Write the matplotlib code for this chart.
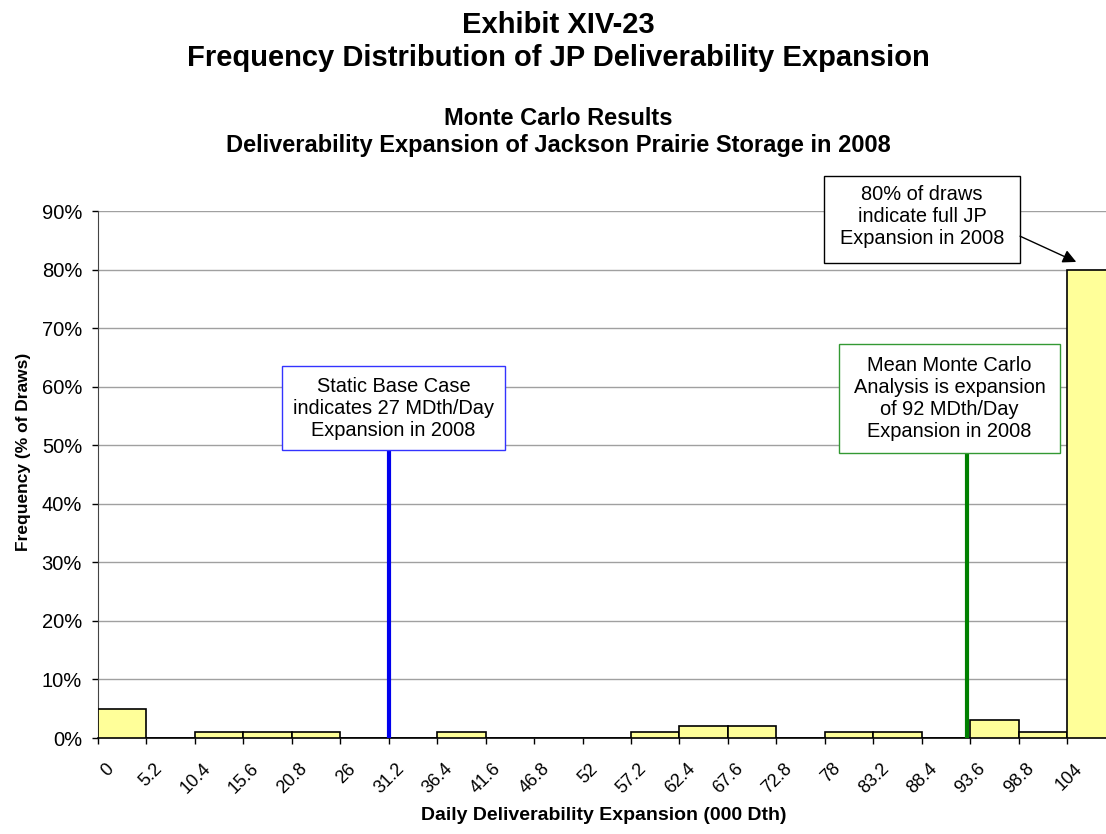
import matplotlib
matplotlib.use("Agg")
import matplotlib.pyplot as plt
import matplotlib.transforms as mtransforms
from matplotlib.patches import Rectangle
import numpy as np

plt.rcParams['font.family'] = ['Liberation Sans', 'DejaVu Sans']

bins = ["0", "5.2", "10.4", "15.6", "20.8", "26", "31.2", "36.4", "41.6", "46.8", "52",
        "57.2", "62.4", "67.6", "72.8", "78", "83.2", "88.4", "93.6", "98.8", "104"]
freq = [5, 0, 1, 1, 1, 0, 0, 1, 0, 0, 0, 1, 2, 2, 0, 1, 1, 0, 3, 1, 80]

static_pos = 6.0      # category units (31.2)
mean_pos = 17.94      # category units (~92)

W, H = 1106, 834
fig = plt.figure(figsize=(W / 100, H / 100), dpi=100)
ax = fig.add_axes([98 / W, 1 - 738 / H, 1017.5 / W, (738 - 211) / H])

x = np.arange(len(freq))
ax.bar(x, freq, width=1.0, align='edge', color='#FFFF99', edgecolor='black', linewidth=1.2, zorder=3)

ax.set_xlim(0, len(freq))
ax.set_ylim(0, 90)
ax.set_yticks(np.arange(0, 91, 10))
ax.set_yticklabels([f"{v}%" for v in range(0, 91, 10)], fontsize=14.5)
ax.set_xticks(x)
ax.tick_params(axis='x', length=4.3, width=1, pad=16)
ax.tick_params(axis='y', length=4, width=1, pad=7.5)
ax.set_xticklabels(bins, rotation=45, ha='right', va='center', rotation_mode='anchor', fontsize=13)
offset = mtransforms.ScaledTranslation(13 / 100, 0, fig.dpi_scale_trans)
for lab in ax.get_xticklabels():
    lab.set_transform(lab.get_transform() + offset)
ax.grid(axis='y', color='#A0A0A0', linewidth=1, zorder=0)
ax.set_axisbelow(True)
for s in ['top', 'right']:
    ax.spines[s].set_visible(False)
ax.spines['left'].set_color('#444444')
ax.spines['bottom'].set_linewidth(1.2)

fig.text(604 / W, 1 - 815 / H, "Daily Deliverability Expansion (000 Dth)", ha='center', va='center',
         fontsize=14, fontweight='bold')
fig.text(24 / W, 1 - 452 / H, "Frequency (% of Draws)", ha='center', va='center', rotation=90,
         fontsize=12.5, fontweight='bold')

# annotation boxes (x in category units, y in %)
static_box = (3.80, 49.18, 8.40 - 3.80, 63.52 - 49.18)
mean_box = (15.29, 48.72, 19.855 - 15.29, 67.28 - 48.72)
top_box = (14.985, 81.11, 19.03 - 14.985, 95.97 - 81.11)

ax.plot([static_pos, static_pos], [0, static_box[1]], color='#0000EE', linewidth=3, zorder=4)
ax.plot([mean_pos, mean_pos], [0, mean_box[1]], color='#008000', linewidth=3, zorder=4)

for (bx, by, bw, bh), ec in [(static_box, '#3333FF'), (mean_box, '#339933'), (top_box, 'black')]:
    ax.add_patch(Rectangle((bx, by), bw, bh, facecolor='white', edgecolor=ec, linewidth=1,
                           zorder=5, clip_on=False))

ax.text(static_box[0] + static_box[2] / 2, 56.35, "Static Base Case\nindicates 27 MDth/Day\nExpansion in 2008",
        ha='center', va='center', fontsize=14.4, linespacing=1.2, zorder=6)
ax.text(mean_box[0] + mean_box[2] / 2, 58.0, "Mean Monte Carlo\nAnalysis is expansion\nof 92 MDth/Day\nExpansion in 2008",
        ha='center', va='center', fontsize=14.4, linespacing=1.2, zorder=6)
ax.text(top_box[0] + top_box[2] / 2, 89.0, "80% of draws\nindicate full JP\nExpansion in 2008",
        ha='center', va='center', fontsize=14.4, linespacing=1.2, zorder=6, clip_on=False)
ax.annotate("", xy=(20.19, 81.3), xytext=(top_box[0] + top_box[2], 85.7),
            arrowprops=dict(arrowstyle='-|>', color='black', lw=1, mutation_scale=20,
                            shrinkA=0, shrinkB=0), zorder=6, annotation_clip=False)

fig.text(558 / W, 1 - 33 / H, "Exhibit XIV-23", ha='center', va='baseline',
         fontsize=21, fontweight='bold')
fig.text(558 / W, 1 - 66 / H, "Frequency Distribution of JP Deliverability Expansion", ha='center',
         va='baseline', fontsize=21, fontweight='bold')
fig.text(558 / W, 1 - 125 / H, "Monte Carlo Results", ha='center', va='baseline',
         fontsize=17, fontweight='bold')
fig.text(558 / W, 1 - 152 / H, "Deliverability Expansion of Jackson Prairie Storage in 2008",
         ha='center', va='baseline', fontsize=17, fontweight='bold')

fig.savefig("out.png", dpi=100)
